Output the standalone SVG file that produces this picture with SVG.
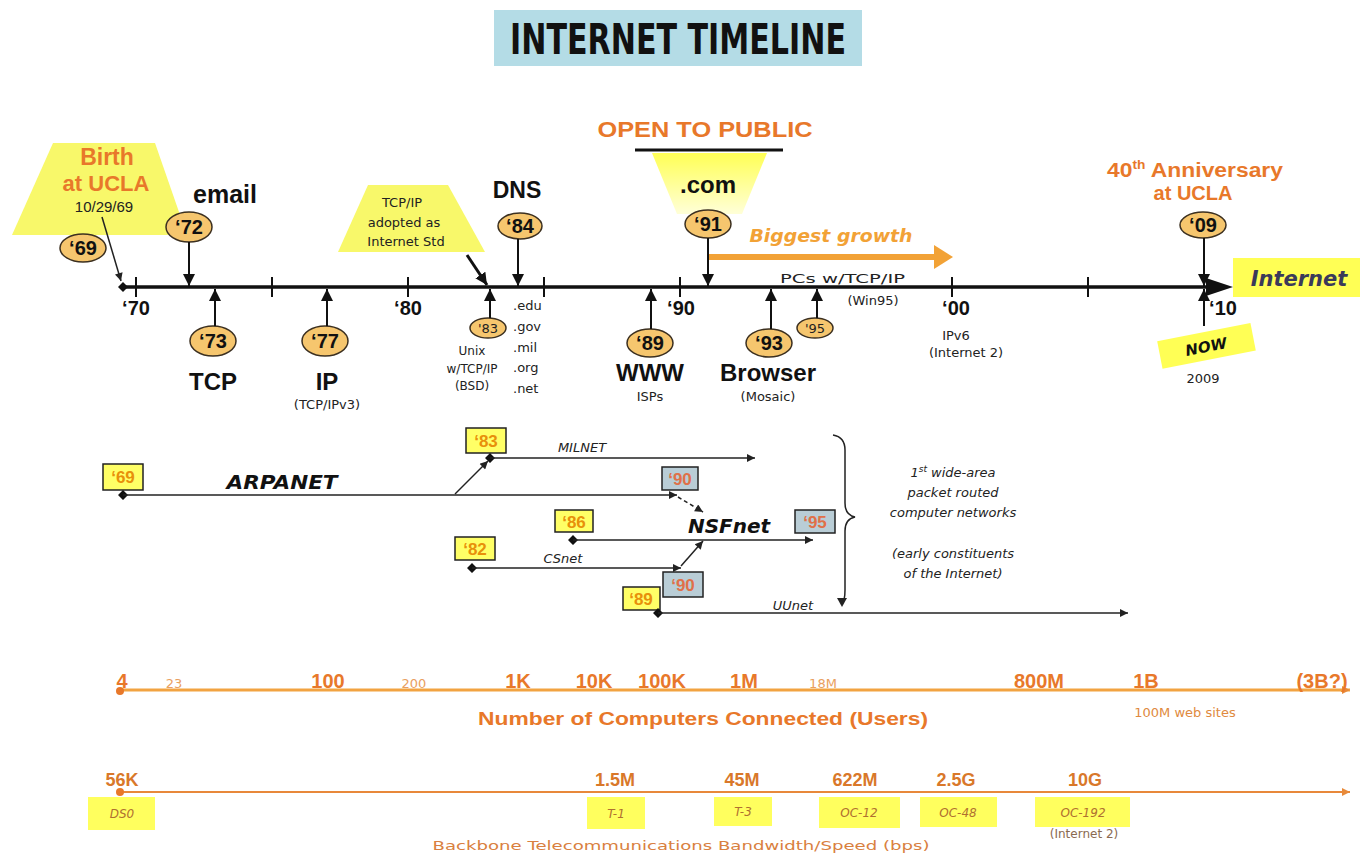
<svg xmlns="http://www.w3.org/2000/svg" width="1360" height="854" viewBox="0 0 1360 854">
<style>
.b{font-family:"Liberation Sans",Arial,sans-serif;font-weight:bold;fill:#111}
.yr{font-family:"Liberation Sans",Arial,sans-serif;font-weight:bold;font-size:20px;fill:#111;text-anchor:middle}
.ys{font-family:"DejaVu Sans",sans-serif;font-size:13px;fill:#222;text-anchor:middle}
.sm{font-family:"DejaVu Sans",sans-serif;font-size:13px;fill:#222}
.mid{text-anchor:middle}
.or{fill:#e8782a}
.ell{fill:#f6c66e;stroke:#3c3020;stroke-width:1.5}
.ax{stroke:#111;stroke-width:2;fill:none}
.tick{stroke:#111;stroke-width:2}
.net{stroke:#222;stroke-width:1.5;fill:none}
.ybox{fill:#ffff66;stroke:#222;stroke-width:1.5}
.gbox{fill:#b9cdd6;stroke:#222;stroke-width:1.5}
.bt{font-family:"Liberation Sans",Arial,sans-serif;font-weight:bold;font-size:17px;fill:#e8900a;text-anchor:middle}
.gt{fill:#e07048}
.it{font-family:"DejaVu Sans",sans-serif;font-style:italic;font-size:13px;fill:#222;text-anchor:middle}
.bi{font-family:"DejaVu Sans",sans-serif;font-style:italic;font-weight:bold;fill:#111;text-anchor:middle}
.un{font-family:"Liberation Sans",Arial,sans-serif;font-weight:bold;font-size:20px;fill:#e8782a;text-anchor:middle}
.us{font-family:"DejaVu Sans",sans-serif;font-size:13px;fill:#e9a060;text-anchor:middle}
.bw{font-family:"Liberation Sans",Arial,sans-serif;font-weight:bold;font-size:18px;fill:#d9782a;text-anchor:middle}
.bbox{fill:#ffff5e}
.bl{font-family:"DejaVu Sans",sans-serif;font-style:italic;font-size:12px;fill:#b07030;text-anchor:middle}
</style>
<defs>
<marker id="ah" viewBox="0 0 10 10" refX="10" refY="5" markerWidth="12" markerHeight="12" markerUnits="userSpaceOnUse" orient="auto"><path d="M0,0L10,5L0,10z" fill="#111"/></marker>
<marker id="as" viewBox="0 0 10 10" refX="10" refY="5" markerWidth="10" markerHeight="8" markerUnits="userSpaceOnUse" orient="auto"><path d="M0,0L10,5L0,10z" fill="#222"/></marker>
<marker id="ao" viewBox="0 0 10 10" refX="10" refY="5" markerWidth="10" markerHeight="8" markerUnits="userSpaceOnUse" orient="auto"><path d="M0,0L10,5L0,10z" fill="#e88a3a"/></marker>
<linearGradient id="spot" x1="0" y1="0" x2="0" y2="1"><stop offset="0" stop-color="#ffff55"/><stop offset="1" stop-color="#ffffd8"/></linearGradient>
</defs>
<rect width="1360" height="854" fill="#fff"/>

<g id="title">
<rect x="494" y="10" width="368" height="56" fill="#b4dce6"/>
<text x="678" y="54" font-family="DejaVu Sans Condensed,DejaVu Sans,sans-serif" font-weight="bold" font-size="42" fill="#111" text-anchor="middle" textLength="336" lengthAdjust="spacingAndGlyphs">INTERNET TIMELINE</text>
</g>

<g id="timeline">
<line x1="123" y1="287" x2="1210" y2="287" stroke="#111" stroke-width="3.5"/>
<path d="M1206,278L1233,287L1206,296z" fill="#111"/>
<path d="M118,287L123,282L128,287L123,292z" fill="#111"/>
<line class="tick" x1="136" y1="277" x2="136" y2="297"/>
<line class="tick" x1="272" y1="277" x2="272" y2="297"/>
<line class="tick" x1="408" y1="277" x2="408" y2="297"/>
<line class="tick" x1="544" y1="277" x2="544" y2="297"/>
<line class="tick" x1="680" y1="277" x2="680" y2="297"/>
<line class="tick" x1="952" y1="277" x2="952" y2="297"/>
<line class="tick" x1="1088" y1="277" x2="1088" y2="297"/>
<text class="yr" x="136" y="315" font-size="22">‘70</text>
<text class="yr" x="408" y="315" font-size="22">‘80</text>
<text class="yr" x="681" y="315" font-size="22">‘90</text>
<text class="yr" x="956" y="315" font-size="22">‘00</text>
<text class="yr" x="1223" y="315" font-size="22">‘10</text>
</g>

<g id="internet">
<rect x="1233" y="258" width="127" height="39" fill="#ffff55"/>
<text class="bi" x="1299" y="286" font-size="21" fill="#3a3a5a" style="fill:#3a3a5a">Internet</text>
</g>

<g id="birth">
<polygon points="53,143 155,143 187,235 12,235" fill="#f8f86a"/>
<text class="b or mid" x="107" y="165" font-size="23">Birth</text>
<text class="b or mid" x="106" y="191" font-size="22">at UCLA</text>
<text class="sm mid" x="104" y="212" font-size="14" style="font-family:'Liberation Sans',Arial,sans-serif;font-size:15px">10/29/69</text>
<ellipse class="ell" cx="83" cy="248" rx="23" ry="14"/>
<text class="yr" x="83" y="255">‘69</text>
</g>

<g id="email">
<text class="b mid" x="225" y="203" font-size="25">email</text>
<ellipse class="ell" cx="189" cy="227" rx="23" ry="15"/>
<text class="yr" x="189" y="234">‘72</text>
</g>

<g id="tcp">
<ellipse class="ell" cx="213" cy="341" rx="23" ry="15"/>
<text class="yr" x="213" y="348">‘73</text>
<text class="b mid" x="213" y="390" font-size="24">TCP</text>
</g>

<g id="ip">
<ellipse class="ell" cx="325" cy="341" rx="23" ry="15"/>
<text class="yr" x="325" y="348">‘77</text>
<text class="b mid" x="327" y="390" font-size="24">IP</text>
<text class="ys" x="327" y="409">(TCP/IPv3)</text>
</g>

<g id="tcpip-std">
<polygon points="368,185 448,185 485,252 338,252" fill="#f8f86a"/>
<text class="ys" x="402" y="207">TCP/IP</text>
<text class="ys" x="404" y="227">adopted as</text>
<text class="ys" x="406" y="246">Internet Std</text>
</g>

<g id="unix">
<ellipse class="ell" cx="488" cy="328" rx="18" ry="10"/>
<text class="ys" x="488" y="333" font-size="13">'83</text>
<text class="ys" x="472" y="355" style="font-size:12px">Unix</text>
<text class="ys" x="472" y="373" style="font-size:12px">w/TCP/IP</text>
<text class="ys" x="472" y="390" style="font-size:12px">(BSD)</text>
</g>

<g id="dns">
<text class="b mid" x="517" y="198" font-size="23">DNS</text>
<ellipse class="ell" cx="520" cy="226" rx="22" ry="13"/>
<text class="yr" x="520" y="233">‘84</text>
<text class="sm" x="513" y="310">.edu</text>
<text class="sm" x="513" y="331">.gov</text>
<text class="sm" x="513" y="352">.mil</text>
<text class="sm" x="513" y="372">.org</text>
<text class="sm" x="513" y="393">.net</text>
</g>

<g id="www">
<ellipse class="ell" cx="650" cy="343" rx="23" ry="14"/>
<text class="yr" x="650" y="350">‘89</text>
<text class="b mid" x="650" y="381" font-size="24">WWW</text>
<text class="ys" x="650" y="401">ISPs</text>
</g>

<g id="com">
<text class="b or mid" x="705" y="137" font-size="22" textLength="215" lengthAdjust="spacingAndGlyphs">OPEN TO PUBLIC</text>
<line x1="635" y1="150" x2="783" y2="150" stroke="#111" stroke-width="3"/>
<polygon points="652,153 767,153 742,214 677,214" fill="url(#spot)"/>
<text class="b mid" x="708" y="193" font-size="24">.com</text>
<ellipse class="ell" cx="708" cy="224" rx="23" ry="14"/>
<text class="yr" x="708" y="231">‘91</text>
</g>

<g id="growth">
<text class="bi" x="831" y="242" font-size="17" style="fill:#f2a236" textLength="163" lengthAdjust="spacingAndGlyphs">Biggest growth</text>
<line x1="708" y1="257" x2="936" y2="257" stroke="#f2a236" stroke-width="6"/>
<path d="M934,245L953,257L934,269z" fill="#f2a236"/>
</g>

<g id="browser">
<ellipse class="ell" cx="769" cy="343" rx="23" ry="14"/>
<text class="yr" x="769" y="350">‘93</text>
<text class="b mid" x="768" y="381" font-size="24">Browser</text>
<text class="ys" x="768" y="401">(Mosaic)</text>
</g>

<g id="win95">
<ellipse class="ell" cx="815" cy="328" rx="18" ry="10"/>
<text class="ys" x="815" y="333">'95</text>
<text class="sm" x="780" y="283" textLength="125" lengthAdjust="spacingAndGlyphs">PCs w/TCP/IP</text>
<text class="ys" x="873" y="305">(Win95)</text>
</g>

<g id="ipv6">
<text class="ys" x="956" y="340">IPv6</text>
<text class="ys" x="966" y="357">(Internet 2)</text>
</g>

<g id="anniv">
<text class="b or mid" x="1195" y="177" font-size="20" textLength="176" lengthAdjust="spacingAndGlyphs">40<tspan font-size="12" dy="-8">th</tspan><tspan dy="8"> Anniversary</tspan></text>
<text class="b or mid" x="1193" y="200" font-size="20">at UCLA</text>
<ellipse class="ell" cx="1203" cy="225" rx="23" ry="13"/>
<text class="yr" x="1203" y="232">‘09</text>
</g>

<g id="now">
<g transform="rotate(-11 1206 346)">
<rect x="1159" y="332" width="95" height="28" fill="#ffff55"/>
<text class="bi" x="1206" y="352" font-size="15">NOW</text>
</g>
<text class="ys" x="1203" y="383">2009</text>
</g>

<g id="networks">
<rect class="ybox" x="103" y="464" width="40" height="26"/>
<text class="bt" x="123" y="483">‘69</text>
<text class="bi" x="282" y="489" font-size="19" textLength="111" lengthAdjust="spacingAndGlyphs">ARPANET</text>
<rect class="ybox" x="466" y="428" width="40" height="25"/>
<text class="bt" x="486" y="447">‘83</text>
<text class="it" x="582" y="452">MILNET</text>
<rect class="gbox" x="662" y="467" width="36" height="23"/>
<text class="bt gt" x="680" y="485">‘90</text>
<text class="bi" x="729" y="533" font-size="20">NSFnet</text>
<rect class="ybox" x="555" y="510" width="38" height="22"/>
<text class="bt" x="574" y="528">‘86</text>
<rect class="gbox" x="795" y="510" width="40" height="23"/>
<text class="bt gt" x="815" y="528">‘95</text>
<rect class="ybox" x="455" y="537" width="40" height="23"/>
<text class="bt" x="475" y="555">‘82</text>
<text class="it" x="563" y="563">CSnet</text>
<rect class="gbox" x="663" y="572" width="40" height="25"/>
<text class="bt gt" x="683" y="591">‘90</text>
<rect class="ybox" x="623" y="587" width="37" height="23"/>
<text class="bt" x="641" y="605">‘89</text>
<text class="it" x="793" y="610">UUnet</text>
<path d="M123,490L128,495L123,500L118,495z M490,453L495,458L490,463L485,458z M573,535L578,540L573,545L568,540z M472,563L477,568L472,573L467,568z M658,608L663,613L658,618L653,613z" fill="#111"/>
<path d="M833,435Q845,437 845,450L845,503Q845,515 855,517Q845,519 845,531L845,590Q845,600 842,604" class="net"/>
<path d="M837,598L842,607L847,598z" fill="#222"/>
<text class="it" x="953" y="477">1<tspan font-size="9" dy="-5">st</tspan><tspan dy="5"> wide-area</tspan></text>
<text class="it" x="953" y="497">packet routed</text>
<text class="it" x="953" y="517">computer networks</text>
<text class="it" x="953" y="558">(early constituents</text>
<text class="it" x="953" y="578">of the Internet)</text>
</g>

<g id="users">
<line x1="120" y1="690" x2="1350" y2="690" stroke="#f2a341" stroke-width="3" marker-end="url(#ao)"/>
<circle cx="120" cy="691" r="4" fill="#e8782a"/>
<text class="un" x="122" y="688">4</text>
<text class="us" x="174" y="688">23</text>
<text class="un" x="328" y="688">100</text>
<text class="us" x="414" y="688">200</text>
<text class="un" x="518" y="688">1K</text>
<text class="un" x="594" y="688">10K</text>
<text class="un" x="662" y="688">100K</text>
<text class="un" x="744" y="688">1M</text>
<text class="us" x="823" y="688">18M</text>
<text class="un" x="1039" y="688">800M</text>
<text class="un" x="1146" y="688">1B</text>
<text class="un" x="1322" y="688">(3B?)</text>
<text class="b or mid" x="703" y="725" font-size="18" textLength="450" lengthAdjust="spacingAndGlyphs">Number of Computers Connected (Users)</text>
<text class="us" x="1185" y="717" style="fill:#e08a40">100M web sites</text>
</g>

<g id="bandwidth">
<line x1="120" y1="792" x2="1350" y2="792" stroke="#e8883a" stroke-width="2" marker-end="url(#ao)"/>
<circle cx="120" cy="792" r="4" fill="#e8782a"/>
<text class="bw" x="122" y="786">56K</text>
<rect class="bbox" x="88" y="797" width="67" height="33"/>
<text class="bl" x="122" y="818">DS0</text>
<text class="bw" x="615" y="786">1.5M</text>
<rect class="bbox" x="587" y="797" width="58" height="32"/>
<text class="bl" x="616" y="818">T-1</text>
<text class="bw" x="742" y="786">45M</text>
<rect class="bbox" x="714" y="797" width="58" height="29"/>
<text class="bl" x="743" y="816">T-3</text>
<text class="bw" x="855" y="786">622M</text>
<rect class="bbox" x="819" y="797" width="81" height="31"/>
<text class="bl" x="859" y="817">OC-12</text>
<text class="bw" x="956" y="786">2.5G</text>
<rect class="bbox" x="920" y="797" width="77" height="30"/>
<text class="bl" x="958" y="817">OC-48</text>
<text class="bw" x="1085" y="786">10G</text>
<rect class="bbox" x="1035" y="797" width="95" height="30"/>
<text class="bl" x="1083" y="817">OC-192</text>
<text class="ys" x="1084" y="838" style="fill:#8a6a50;font-size:12px">(Internet 2)</text>
<text class="ys" x="681" y="850" style="fill:#d98040" textLength="497" lengthAdjust="spacingAndGlyphs">Backbone Telecommunications Bandwidth/Speed (bps)</text>
</g>

<g id="connectors">
<line class="net" x1="102" y1="217" x2="121" y2="281" marker-end="url(#as)"/>
<line class="ax" x1="189" y1="242" x2="189" y2="286" marker-end="url(#ah)"/>
<line class="ax" x1="215" y1="326" x2="215" y2="289" marker-end="url(#ah)"/>
<line class="ax" x1="327" y1="326" x2="327" y2="289" marker-end="url(#ah)"/>
<line x1="467" y1="255" x2="487" y2="285" stroke="#111" stroke-width="3" marker-end="url(#ah)"/>
<line class="ax" x1="490" y1="318" x2="490" y2="289" marker-end="url(#ah)"/>
<line class="ax" x1="518" y1="239" x2="518" y2="286" marker-end="url(#ah)"/>
<line class="ax" x1="651" y1="329" x2="651" y2="289" marker-end="url(#ah)"/>
<line class="ax" x1="708" y1="238" x2="708" y2="286" marker-end="url(#ah)"/>
<line class="ax" x1="771" y1="329" x2="771" y2="289" marker-end="url(#ah)"/>
<line class="ax" x1="817" y1="318" x2="817" y2="289" marker-end="url(#ah)"/>
<line class="ax" x1="1204" y1="238" x2="1204" y2="286" marker-end="url(#ah)"/>
<line class="ax" x1="1204" y1="326" x2="1204" y2="289" marker-end="url(#ah)"/>
<line class="net" x1="123" y1="495" x2="677" y2="495" marker-end="url(#as)"/>
<line class="net" x1="455" y1="494" x2="488" y2="461" marker-end="url(#as)"/>
<line class="net" x1="490" y1="458" x2="755" y2="458" marker-end="url(#as)"/>
<line class="net" x1="678" y1="497" x2="703" y2="512" stroke-dasharray="4,3" marker-end="url(#as)"/>
<line class="net" x1="573" y1="540" x2="813" y2="540" marker-end="url(#as)"/>
<line class="net" x1="472" y1="568" x2="681" y2="568" marker-end="url(#as)"/>
<line class="net" x1="681" y1="566" x2="703" y2="541" marker-end="url(#as)"/>
<line class="net" x1="658" y1="613" x2="1128" y2="613" marker-end="url(#as)"/>
</g>
</svg>
